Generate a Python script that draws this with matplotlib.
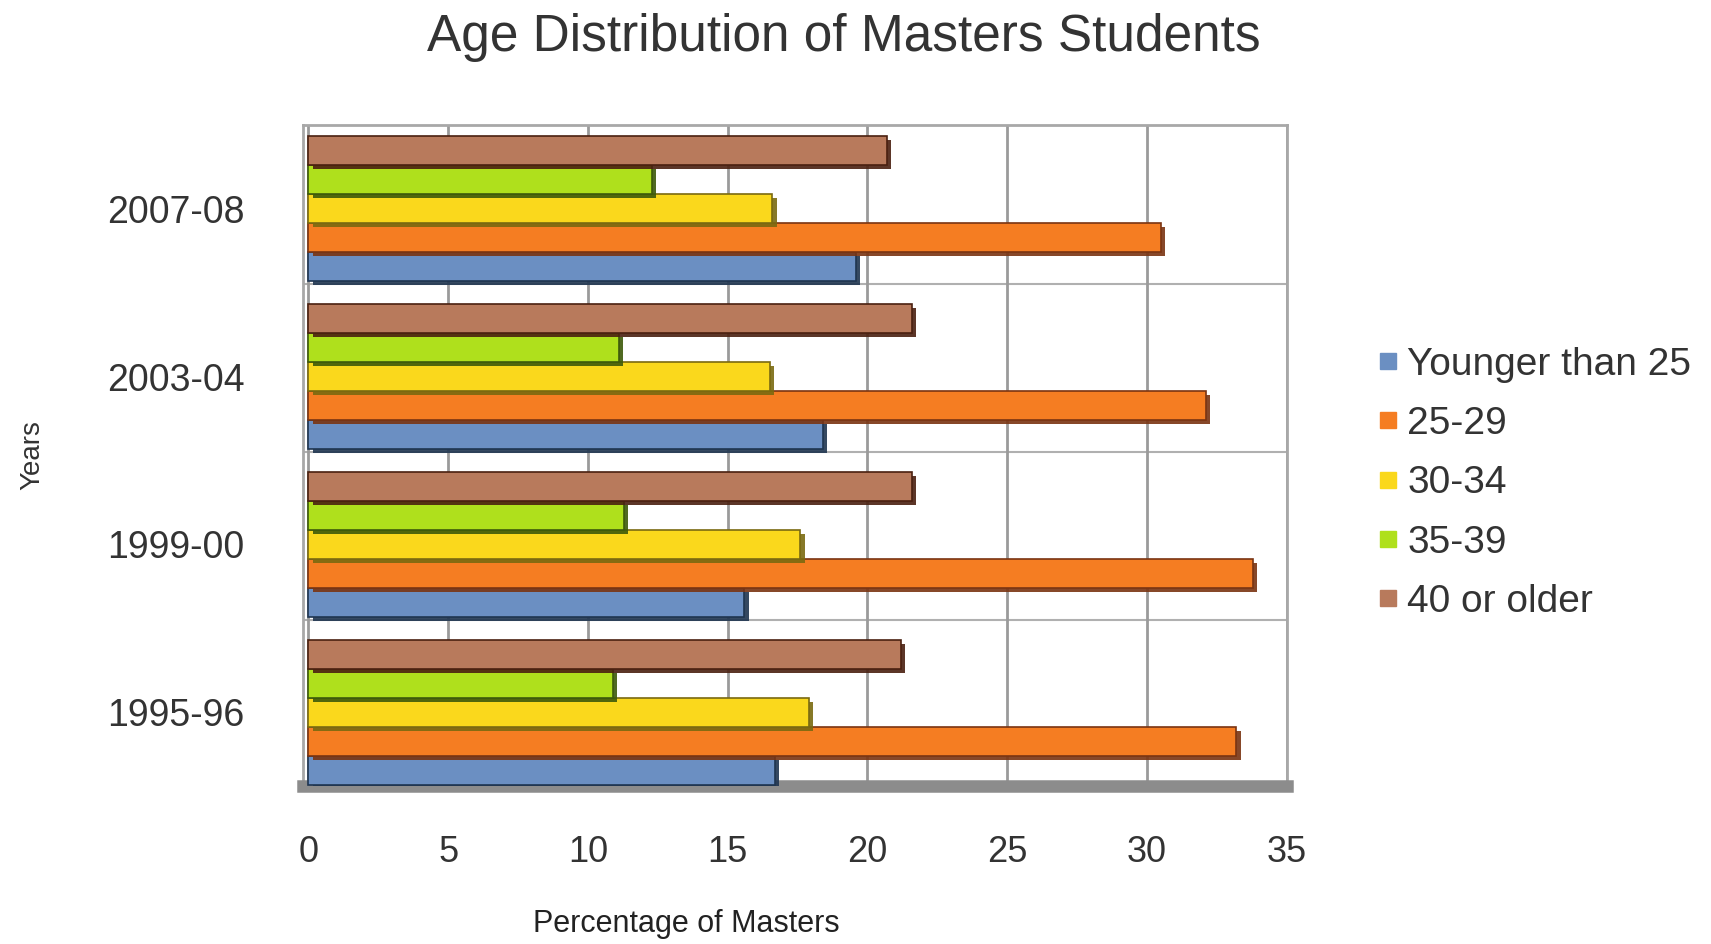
import matplotlib
matplotlib.use("Agg")
import matplotlib.pyplot as plt
import matplotlib.patheffects as pe
from matplotlib.lines import Line2D
import numpy as np

plt.rcParams['font.family'] = ['Liberation Sans', 'DejaVu Sans']

years = ["1995-96", "1999-00", "2003-04", "2007-08"]
groups = ["Younger than 25", "25-29", "30-34", "35-39", "40 or older"]
younger_25 = [16.7, 15.6, 18.4, 19.6]
age_25_29 = [33.2, 33.8, 32.1, 30.5]
age_30_34 = [17.9, 17.6, 16.5, 16.6]
age_35_39 = [10.9, 11.3, 11.1, 12.3]
age_40_up = [21.2, 21.6, 21.6, 20.7]

series = [younger_25, age_25_29, age_30_34, age_35_39, age_40_up]
colors = ["#6b8fc2", "#f57d22", "#fad81c", "#afe01c", "#b87a5c"]
shadows = ["#1f3550", "#7a3412", "#7a6a10", "#3d5a0a", "#4a2010"]

fig = plt.figure(figsize=(17.11, 9.44), dpi=100)
ax = fig.add_axes([0.177, 0.167, 0.575, 0.701])

pos = np.arange(len(years))
h = 0.173
for i, vals in enumerate(series):
    bars = ax.barh(pos + (i - 2) * h, vals, height=h, color=colors[i],
                   edgecolor=shadows[i], linewidth=1.2, zorder=3)
    for b in bars:
        b.set_path_effects([pe.SimplePatchShadow(offset=(3, -3), shadow_rgbFace=shadows[i], alpha=0.9),
                            pe.Normal()])

ax.set_xlim(-0.2, 35)
ax.set_ylim(-0.44, 3.5)
ax.set_xticks(np.arange(0, 36, 5))
ax.set_yticks(pos)
ax.set_yticklabels(years)
ax.tick_params(axis='x', length=0, pad=35, labelsize=26, labelcolor="#333333")
ax.tick_params(axis='y', length=0, pad=42, labelsize=27, labelcolor="#333333")

ax.grid(axis='x', color="#9a9a9a", linewidth=2, zorder=0)
for yb in [0.55, 1.55, 2.55]:
    ax.axhline(yb, color="#b0b0b0", linewidth=1.5, zorder=0)

for s in ['top', 'right', 'left']:
    ax.spines[s].set_color("#a8a8a8")
    ax.spines[s].set_linewidth(2)
ax.spines['bottom'].set_color("#8c8c8c")
ax.spines['bottom'].set_linewidth(9)

ax.set_xlabel("Percentage of Masters", fontsize=22, color="#222222")
ax.xaxis.set_label_coords(0.39, -0.185)
ax.set_ylabel("Years", fontsize=20, color="#333333")
ax.yaxis.set_label_coords(-0.262, 0.5)

fig.text(0.493, 0.96, "Age Distribution of Masters Students", fontsize=37,
         color="#333333", ha='center', va='center')

handles = [Line2D([], [], marker='s', linestyle='none', markersize=11,
                  markerfacecolor=c, markeredgecolor=c) for c in colors]
fig.legend(handles, groups, loc='upper left', bbox_to_anchor=(0.785, 0.67),
           frameon=False, fontsize=28, labelspacing=0.6, handlelength=0.5,
           handletextpad=0.25, labelcolor="#333333")

fig.savefig("out.png", dpi=100)
